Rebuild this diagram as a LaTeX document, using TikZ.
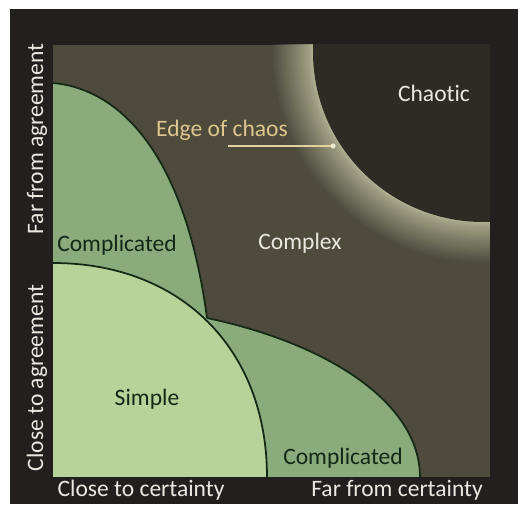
\documentclass[tikz,border=0pt]{standalone}
\usepackage{fontspec}
\setmainfont{Carlito}[Ligatures=NoCommon]
\usepackage{tikz}
\usetikzlibrary{positioning}
\usepackage{xcolor}
\definecolor{frame}{RGB}{35,31,30}
\definecolor{complexbg}{RGB}{78,75,60}
\definecolor{chaosbg}{RGB}{46,43,36}
\definecolor{glow}{RGB}{236,236,200}
\definecolor{simplegreen}{RGB}{182,211,154}
\definecolor{compgreen}{RGB}{138,172,124}
\definecolor{rim}{RGB}{20,42,20}
\definecolor{darktext}{RGB}{18,40,22}
\definecolor{gold}{RGB}{222,198,142}
\definecolor{paletext}{RGB}{234,232,224}

\begin{document}
\begin{tikzpicture}[x=0.02cm, y=0.02cm, font=\fontsize{13.4}{16}\selectfont,
    zone/.style={draw=rim, line width=1pt},
    lbl/.style={anchor=base, inner sep=0pt},
    axislbl/.style={lbl, paletext}]
  % page and frame
  \useasboundingbox[fill=white] (0,0) rectangle (518,514);
  \fill[frame] (10,10) rectangle (518,505);
  \fill[complexbg] (53,37) rectangle (490,469);
  % chaotic corner with its glow
  \coordinate (chaos) at (483,462);
  \begin{scope}
    \clip (53,37) rectangle (490,469);
    \foreach \g in {1,...,40}
      \fill[glow, opacity=0.032] (chaos) circle[radius=170+0.025*\g*\g];
    \fill[chaosbg] (chaos) circle[radius=170];
  \end{scope}
  % complicated (upper and lower)
  \fill[compgreen] (53,431) .. controls (120,425) and (185,360) .. (207,196)
    -- (207,37) -- (53,37) -- cycle;
  \fill[compgreen] (207,196) .. controls (330,170) and (420,110) .. (420,37)
    -- (207,37) -- cycle;
  % simple
  \fill[simplegreen] (53,251) .. controls (181,251) and (267,165) .. (267,37)
    -- (53,37) -- cycle;
  % boundaries
  \draw[zone] (53,431) .. controls (120,425) and (185,360) .. (207,196);
  \draw[zone] (207,196) .. controls (330,170) and (420,110) .. (420,37);
  \draw[zone] (53,251) .. controls (181,251) and (267,165) .. (267,37);
  % domain names
  \node[lbl, paletext] (chaotic) at (434,412) {Chaotic};
  \node[lbl, paletext] (complex) at (300,264) {Complex};
  \node[lbl, darktext] (compup) at (117,262) {Complicated};
  \node[lbl, darktext] (complow) at (343,49) {Complicated};
  \node[lbl, darktext] (simple) at (147,108) {Simple};
  % edge of chaos pointer
  \node[lbl, gold] (edgetext) at (222,377) {Edge of chaos};
  \coordinate (edgestart) at (228,368);
  \coordinate (edgedot) at (333,368);
  \draw[gold!70!glow, line width=0.7pt] (edgestart) -- (edgedot);
  \fill[glow] (edgedot) circle[radius=2.6];
  % axes
  \node[axislbl] (closecert) at (141,17) {Close to certainty};
  \node[axislbl] (farcert) at (397,17) {Far from certainty};
  \node[axislbl, rotate=90] (faragree) at (43,375) {Far from agreement};
  \node[axislbl, rotate=90] (closeagree) at (43,136) {Close to agreement};
\end{tikzpicture}
\end{document}
